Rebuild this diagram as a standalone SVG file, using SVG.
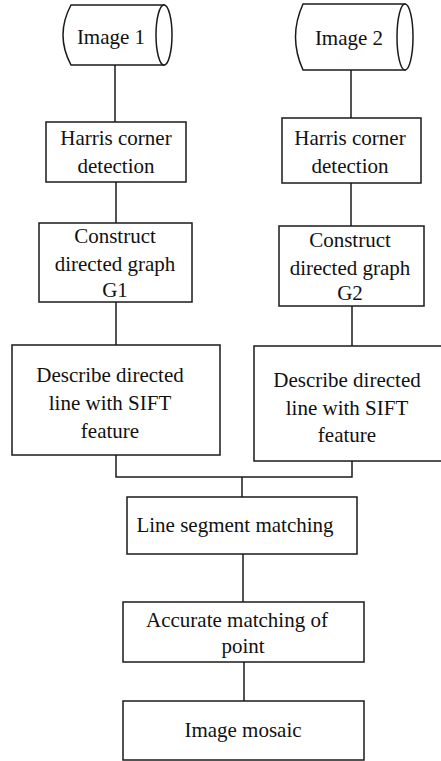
<svg xmlns="http://www.w3.org/2000/svg" width="441" height="761" viewBox="0 0 441 761">
<style>
.box{fill:#fff;stroke:#1a1a1a;stroke-width:1.5}
.ln{fill:none;stroke:#1a1a1a;stroke-width:1.5}
text{font-family:"Liberation Serif","Times New Roman",serif;font-size:21px;fill:#111;text-anchor:middle}
</style>
<rect width="441" height="761" fill="#fff"/>
<g id="connectors">
<path class="ln" d="M115 65V122"/>
<path class="ln" d="M351 70V118"/>
<path class="ln" d="M116 182V223"/>
<path class="ln" d="M351 183V226"/>
<path class="ln" d="M116 302V345"/>
<path class="ln" d="M352 306V346"/>
<path class="ln" d="M116 455V477H352V461"/>
<path class="ln" d="M242 477V497"/>
<path class="ln" d="M243 554V602"/>
<path class="ln" d="M244 662V701"/>
</g>
<g id="image1">
<path class="box" d="M71 5H164V65H71Q55 35 71 5Z"/>
<ellipse class="box" cx="164" cy="35" rx="8" ry="30"/>
<text x="111" y="44">Image 1</text>
</g>
<g id="image2">
<path class="box" d="M303 4H405V70H303Q288 37 303 4Z"/>
<ellipse class="box" cx="405" cy="37" rx="8" ry="33"/>
<text x="349" y="45">Image 2</text>
</g>
<g id="harris1">
<rect class="box" x="46" y="122" width="140" height="60"/>
<text x="116" y="145">Harris corner</text>
<text x="116" y="173">detection</text>
</g>
<g id="harris2">
<rect class="box" x="282" y="118" width="139" height="65"/>
<text x="350" y="145">Harris corner</text>
<text x="350" y="173">detection</text>
</g>
<g id="graph1">
<rect class="box" x="39" y="223" width="153" height="79"/>
<text x="115" y="243">Construct</text>
<text x="115" y="271">directed graph</text>
<text x="115" y="297">G1</text>
</g>
<g id="graph2">
<rect class="box" x="279" y="226" width="145" height="80"/>
<text x="350" y="247">Construct</text>
<text x="350" y="275">directed graph</text>
<text x="350" y="300">G2</text>
</g>
<g id="describe1">
<rect class="box" x="12" y="345" width="208" height="110"/>
<text x="110" y="382">Describe directed</text>
<text x="110" y="410">line with SIFT</text>
<text x="110" y="438">feature</text>
</g>
<g id="describe2">
<rect class="box" x="254" y="346" width="190" height="115"/>
<text x="347" y="387">Describe directed</text>
<text x="347" y="415">line with SIFT</text>
<text x="347" y="442">feature</text>
</g>
<g id="linematch">
<rect class="box" x="127" y="497" width="230" height="57"/>
<text x="235" y="532">Line segment matching</text>
</g>
<g id="accurate">
<rect class="box" x="123" y="602" width="241" height="60"/>
<text x="237" y="627">Accurate matching of</text>
<text x="243" y="653">point</text>
</g>
<g id="mosaic">
<rect class="box" x="123" y="701" width="241" height="59"/>
<text x="243" y="737">Image mosaic</text>
</g>
</svg>
